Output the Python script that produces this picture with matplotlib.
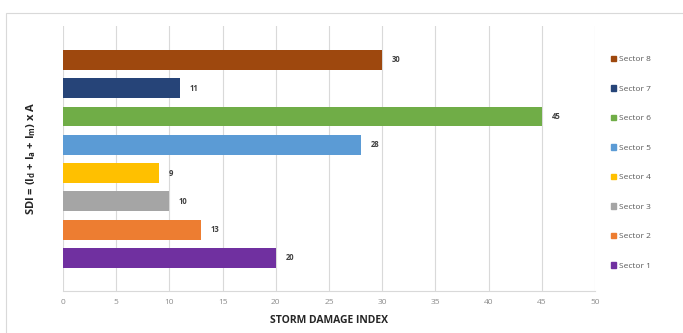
import matplotlib
matplotlib.use("Agg")
import matplotlib.pyplot as plt
from matplotlib.patches import Rectangle

sectors = ["Sector 1", "Sector 2", "Sector 3", "Sector 4",
           "Sector 5", "Sector 6", "Sector 7", "Sector 8"]
values = [20, 13, 10, 9, 28, 45, 11, 30]
colors = ["#7030A0", "#ED7D31", "#A5A5A5", "#FFC000",
          "#5B9BD5", "#70AD47", "#264478", "#9E480E"]
xticks = [0, 5, 10, 15, 20, 25, 30, 35, 40, 45, 50]

plt.rcParams['font.family'] = ['Open Sans', 'DejaVu Sans']
plt.rcParams['mathtext.default'] = 'regular'

fig = plt.figure(figsize=(6.83, 3.33), dpi=100)
fig.patches.append(Rectangle((6/683, -0.1), 1.1, 1 - 13/333 + 0.1,
                             transform=fig.transFigure, fill=False,
                             edgecolor="#D9D9D9", linewidth=0.8))
ax = fig.add_axes([63/683, 1 - 291/333, 532/683, 265/333])

ypos = list(range(len(sectors)))
bars = ax.barh(ypos, values, height=0.7, color=colors, zorder=3)
for y, v in zip(ypos, values):
    ax.text(v + 0.9, y, str(v), va="center", ha="left", fontsize=5.5,
            fontweight="bold", color="#404040")

ax.set_xlim(0, 50)
ax.set_ylim(-1.17, 8.2)
ax.set_xticks(xticks)
ax.set_xticklabels([str(t) for t in xticks])
ax.tick_params(axis="x", length=0, labelsize=6, labelcolor="#8C8C8C", pad=6)
ax.set_yticks([])
ax.grid(axis="x", color="#D9D9D9", linewidth=0.8, zorder=0)
for s in ["top", "right", "left"]:
    ax.spines[s].set_visible(False)
ax.spines["bottom"].set_color("#D9D9D9")
ax.spines["bottom"].set_linewidth(0.8)

ax.set_xlabel("STORM DAMAGE INDEX", fontsize=7.5, fontweight="bold",
              color="#262626", labelpad=6)
ax.set_ylabel("SDI = (I$_d$ + I$_a$ + I$_{m}$) x A", fontsize=8,
              fontweight="bold", color="#262626", labelpad=18)

handles = [Rectangle((0, 0), 1, 1, color=c) for c in colors[::-1]]
leg = fig.legend(handles, sectors[::-1], loc="upper left",
                 bbox_to_anchor=(603/683, 1 - 48/333), frameon=False,
                 fontsize=6, handlelength=0.7, handleheight=0.7,
                 handletextpad=0.3, labelspacing=2.6, labelcolor="#595959")

fig.savefig("out.png", dpi=100)
